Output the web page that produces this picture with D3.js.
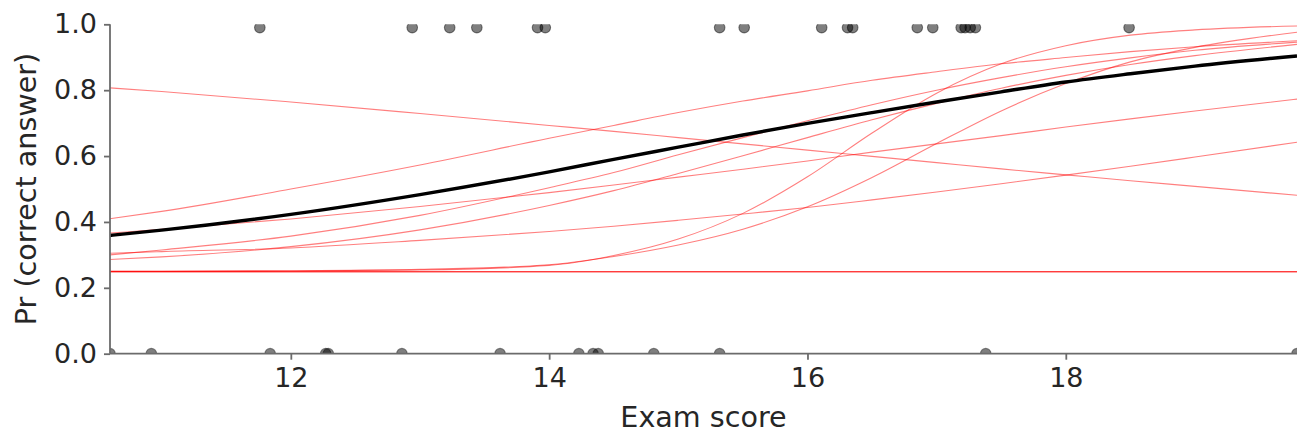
<!DOCTYPE html>
<html>
<head>
<meta charset="utf-8">
<script src="https://cdn.jsdelivr.net/npm/d3@7"></script>
<style>
	body { margin: 0; background: #fff; }
	text { font-family: "DejaVu Sans", sans-serif; fill: #262626; }
</style>
</head>
<body>
<svg id="svg1"></svg>
<script>
// exam scores of the students, split by outcome
var correct_scores = [11.76, 12.94, 13.23, 13.44, 13.91, 13.97, 15.32, 15.51, 16.11, 16.31, 16.35,
	16.85, 16.97, 17.19, 17.22, 17.26, 17.30, 18.49];
var wrong_scores = [10.60, 10.92, 11.84, 12.27, 12.29, 12.86, 13.62, 14.23, 14.34, 14.38, 14.81,
	15.32, 17.38, 19.79];
var correct_y = 0.99;
var wrong_y = 0;

var curve_x = [10.6, 11, 12, 13, 14, 14.5, 15, 15.5, 16, 16.5, 17, 17.5, 18, 18.5, 19, 19.79];

// mean curve
var mean_curve = [0.359, 0.375, 0.423, 0.483, 0.552, 0.590, 0.627, 0.664, 0.699, 0.732, 0.764, 0.795, 0.825, 0.850, 0.873, 0.904];

// posterior sample curves
var sample_1 = [0.807, 0.796, 0.764, 0.729, 0.693, 0.675, 0.656, 0.637, 0.618, 0.599, 0.580, 0.561, 0.543, 0.525, 0.508, 0.481];
var sample_2 = [0.410, 0.432, 0.500, 0.573, 0.654, 0.693, 0.732, 0.767, 0.798, 0.830, 0.856, 0.880, 0.899, 0.917, 0.932, 0.950];
var sample_3 = [0.366, 0.378, 0.409, 0.447, 0.489, 0.512, 0.536, 0.560, 0.585, 0.612, 0.637, 0.662, 0.688, 0.713, 0.737, 0.773];
var sample_4 = [0.300, 0.315, 0.357, 0.420, 0.504, 0.550, 0.604, 0.656, 0.707, 0.756, 0.800, 0.838, 0.871, 0.898, 0.921, 0.946];
var sample_5 = [0.286, 0.294, 0.325, 0.376, 0.450, 0.495, 0.547, 0.601, 0.656, 0.710, 0.760, 0.806, 0.845, 0.878, 0.905, 0.939];
var sample_6 = [0.305, 0.310, 0.321, 0.344, 0.371, 0.387, 0.405, 0.424, 0.444, 0.467, 0.491, 0.516, 0.542, 0.569, 0.597, 0.642];
var sample_7 = [0.250, 0.250, 0.251, 0.254, 0.268, 0.298, 0.348, 0.426, 0.537, 0.670, 0.791, 0.880, 0.935, 0.967, 0.983, 0.995];
var sample_8 = [0.250, 0.250, 0.252, 0.256, 0.270, 0.295, 0.330, 0.378, 0.446, 0.535, 0.638, 0.737, 0.820, 0.886, 0.930, 0.976];
var sample_9 = [0.249, 0.249, 0.249, 0.249, 0.249, 0.249, 0.249, 0.249, 0.249, 0.249, 0.249, 0.249, 0.249, 0.249, 0.249, 0.249];
var sample_10 = [0.249, 0.249, 0.249, 0.249, 0.249, 0.249, 0.249, 0.249, 0.249, 0.249, 0.249, 0.249, 0.249, 0.249, 0.249, 0.249];
var sample_11 = [0.249, 0.249, 0.249, 0.249, 0.249, 0.249, 0.249, 0.249, 0.249, 0.249, 0.249, 0.249, 0.249, 0.249, 0.249, 0.249];

var x_ticks = [12, 14, 16, 18];
var y_ticks = [0, 0.2, 0.4, 0.6, 0.8, 1.0];
var x_label = "Exam score";
var y_label = "Pr (correct answer)";

function draw_chart() {
	settings = {
		width: 1312,
		height: 448,
		left: 110,
		right: 15,
		top: 24.3,
		bottom: 94.3,
		tickSize: 6,
		fontSize: 27,
		labelSize: 28.6
	}
	var w = settings.width - settings.left - settings.right;
	var h = settings.height - settings.top - settings.bottom;

	var all_x = correct_scores.concat(wrong_scores);
	var x = d3.scaleLinear().domain(d3.extent(all_x)).range([0, w]);
	var y = d3.scaleLinear().domain([0, 1]).range([h, 0]);

	var svg = d3.select("#svg1")
		.attr("width", settings.width)
		.attr("height", settings.height);

	svg.append("defs").append("clipPath").attr("id", "plot-clip")
		.append("rect").attr("width", w).attr("height", h);

	var g = svg.append("g")
		.attr("transform", "translate(" + settings.left + "," + settings.top + ")");

	var plot = g.append("g").attr("clip-path", "url(#plot-clip)");

	var line = d3.line()
		.x((d, i) => x(curve_x[i]))
		.y(d => y(d))
		.curve(d3.curveMonotoneX);

	var samples = [sample_1, sample_2, sample_3, sample_4, sample_5,
		sample_6, sample_7, sample_8, sample_9, sample_10, sample_11];

	plot.selectAll(".sample").data(samples).enter()
		.append("path")
		.attr("class", "sample")
		.attr("d", line)
		.attr("fill", "none")
		.attr("stroke", "red")
		.attr("stroke-opacity", 0.5)
		.attr("stroke-width", 1.1);

	plot.append("path")
		.attr("d", line(mean_curve))
		.attr("fill", "none")
		.attr("stroke", "black")
		.attr("stroke-width", 3.4);

	// observed answers
	var points = correct_scores.map(d => [d, correct_y]).concat(wrong_scores.map(d => [d, wrong_y]));
	plot.selectAll(".dot").data(points).enter()
		.append("circle")
		.attr("class", "dot")
		.attr("cx", d => x(d[0]))
		.attr("cy", d => y(d[1]))
		.attr("r", 5.3)
		.attr("fill", "black")
		.attr("fill-opacity", 0.5)
		.attr("stroke", "black")
		.attr("stroke-opacity", 0.45)
		.attr("stroke-width", 1.1);

	// axes
	var xAxis = g.append("g")
		.attr("transform", "translate(0," + h + ")")
		.call(d3.axisBottom(x).tickValues(x_ticks).tickFormat(d3.format("d"))
			.tickSize(settings.tickSize).tickPadding(8));

	var yAxis = g.append("g")
		.call(d3.axisLeft(y).tickValues(y_ticks).tickFormat(d3.format(".1f"))
			.tickSize(settings.tickSize).tickPadding(7));

	[xAxis, yAxis].forEach(function(a) {
		a.select(".domain").attr("stroke", "#6b6b6b").attr("stroke-width", 1.8);
		a.selectAll(".tick line").attr("stroke", "#6b6b6b").attr("stroke-width", 1.8);
		a.selectAll(".tick text")
			.attr("fill", "#262626")
			.style("font-size", settings.fontSize + "px")
			.style("font-family", "DejaVu Sans");
	});
	// no outer ticks on the spines
	xAxis.select(".domain").attr("d", "M0,0H" + w);
	yAxis.select(".domain").attr("d", "M0," + h + "V0");

	g.append("text")
		.attr("x", w / 2)
		.attr("y", h + 73.5)
		.attr("text-anchor", "middle")
		.style("font-size", settings.labelSize + "px")
		.text(x_label);

	g.append("text")
		.attr("transform", "translate(" + (36 - settings.left) + "," + (h / 2) + ") rotate(-90)")
		.attr("text-anchor", "middle")
		.style("font-size", settings.labelSize + "px")
		.text(y_label);
}

draw_chart();
</script>
</body>
</html>
